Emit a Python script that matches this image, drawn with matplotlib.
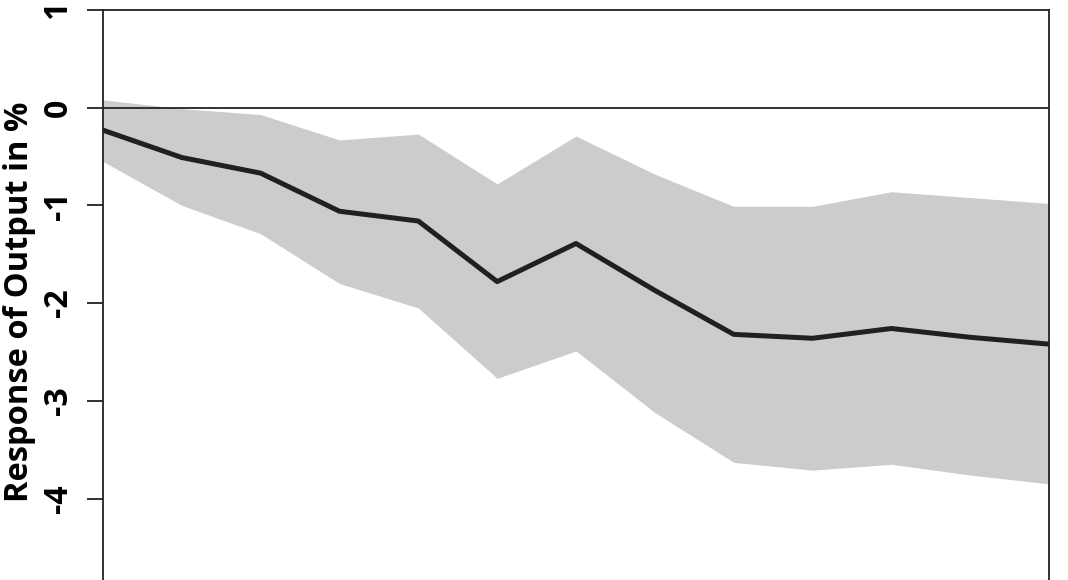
import matplotlib
matplotlib.use("Agg")
import matplotlib.pyplot as plt
import numpy as np

horizon = list(range(13))
response = [-0.23, -0.51, -0.67, -1.06, -1.16, -1.78, -1.39, -1.87, -2.32, -2.36, -2.26, -2.35, -2.42]
upper = [0.08, -0.01, -0.07, -0.33, -0.27, -0.78, -0.29, -0.68, -1.01, -1.01, -0.86, -0.92, -0.98]
lower = [-0.55, -1.00, -1.29, -1.80, -2.05, -2.77, -2.49, -3.12, -3.63, -3.71, -3.65, -3.76, -3.85]
yticks = [-4, -3, -2, -1, 0, 1]
ylabel = "Response of Output in %"

plt.rcParams['font.family'] = ['Open Sans', 'DejaVu Sans']

fig = plt.figure(figsize=(10.68, 5.80), dpi=100)
ax = fig.add_axes([103/1068, 0.0, (1049-103)/1068, 1 - 10/580])

ax.fill_between(horizon, lower, upper, color='#cbcccd', linewidth=0)
ax.axhline(0, color='#222222', linewidth=1.3)
ax.plot(horizon, response, color='#231f20', linewidth=3.6, solid_joinstyle='round')

ax.set_xlim(0, 12)
ax.set_ylim(1 - 570/97.7, 1)
ax.set_xticks([])
ax.set_yticks(yticks)
ax.set_yticklabels([str(v) for v in yticks], rotation=90, va='center',
                   fontsize=23, fontweight='bold')
ax.tick_params(axis='y', direction='out', length=11.5, width=1.3, color='#222222', pad=9)
for s in ['left', 'right', 'top']:
    ax.spines[s].set_linewidth(1.3)
    ax.spines[s].set_color('#222222')
ax.spines['bottom'].set_visible(False)
ax.set_ylabel(ylabel, fontsize=23.5, fontweight='bold')
ax.yaxis.set_label_coords((36 - 103)/946, (580 - 302)/570)

fig.savefig("out.png", dpi=100)
